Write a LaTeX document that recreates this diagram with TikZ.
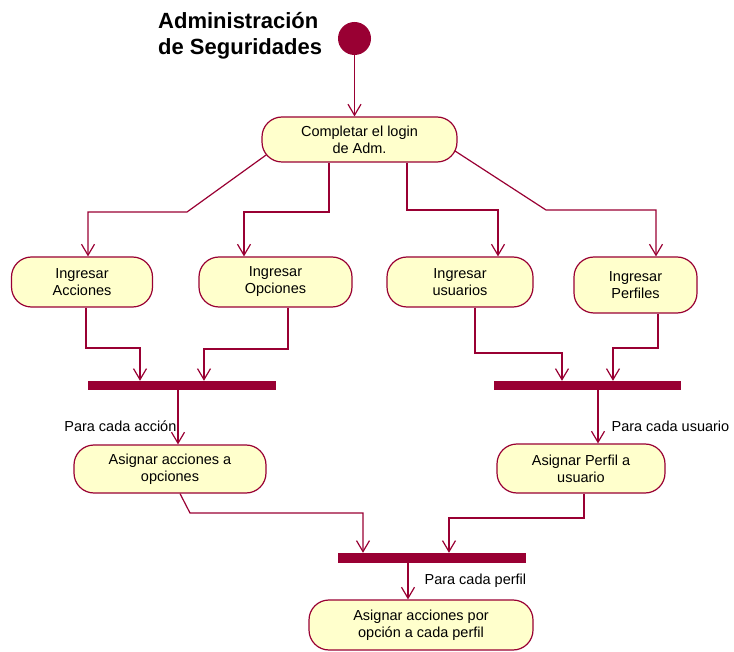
\documentclass[tikz,border=0pt]{standalone}
\usepackage{fontspec}
\setmainfont{Liberation Sans}
\usetikzlibrary{arrows.meta,backgrounds}

\definecolor{roseRed}{HTML}{990033}
\definecolor{roseFill}{HTML}{FFFFCC}

\tikzset{
  action/.style={rectangle, rounded corners=20pt, draw=roseRed, fill=roseFill,
    line width=1.2pt, inner sep=0pt, align=center,
    font=\fontsize{14.5}{17}\selectfont},
  syncbar/.style={rectangle, fill=roseRed, inner sep=0pt, minimum height=9pt},
  flow/.style={draw=roseRed, line width=1.2pt,
    -{Straight Barb[length=11pt,width=13pt,line width=1.2pt]}},
  guard/.style={inner sep=0pt, font=\fontsize{14.5}{17}\selectfont},
}

\begin{document}
\begin{tikzpicture}[x=1pt,y=-1pt]
  \path[use as bounding box] (0,0) rectangle (734,652);

  \node[anchor=north west, align=left, inner sep=0pt,
        font=\fontsize{22}{26}\selectfont\bfseries] (titulo) at (158,12)
        {Administración\\de Seguridades};
  \node[circle, fill=roseRed, minimum size=33pt, inner sep=0pt] (inicio) at (354.5,38.5) {};

  \node[action, minimum width=195pt, minimum height=45pt] (login) at (359.5,139.5)
        {Completar el login\\de Adm.};

  \node[action, minimum width=141pt, minimum height=50pt] (ingAcciones) at (82,282)
        {Ingresar\\Acciones};
  \node[action, minimum width=153pt, minimum height=50pt] (ingOpciones) at (275.5,282)
        {Ingresar\\Opciones};
  \node[action, minimum width=146pt, minimum height=50pt] (ingUsuarios) at (460,282)
        {Ingresar\\usuarios};
  \node[action, minimum width=123pt, minimum height=56pt] (ingPerfiles) at (635.5,285)
        {Ingresar\\Perfiles};

  \node[syncbar, minimum width=188pt] (sincA) at (182,385.5) {};
  \node[syncbar, minimum width=187pt] (sincB) at (587.5,385.5) {};

  \node[action, minimum width=192pt, minimum height=48pt] (asigOpciones) at (170,469)
        {Asignar acciones a\\opciones};
  \node[action, minimum width=168pt, minimum height=49pt] (asigUsuario) at (581,468.5)
        {Asignar Perfil a\\usuario};

  \node[syncbar, minimum width=188pt, minimum height=10pt] (sincC) at (432,558) {};

  \node[action, minimum width=224pt, minimum height=50pt] (asigPerfil) at (421,625)
        {Asignar acciones por\\opción a cada perfil};

  \begin{scope}[on background layer]
    \draw[flow] (inicio.south) -- ([xshift=-5pt]login.north);

    \draw[flow] ([shift={(-92pt,-14.5pt)}]login.center) -- (187,212) -| ([xshift=6pt]ingAcciones.north);
    \draw[flow] ([xshift=-30.5pt]login.south) |- (244,212) -- ([xshift=-31.5pt]ingOpciones.north);
    \draw[flow] ([xshift=47.5pt]login.south) |- (498,210) -- ([xshift=38pt]ingUsuarios.north);
    \draw[flow] ([shift={(94pt,-10.5pt)}]login.center) -- (546,210) -| ([xshift=20.5pt]ingPerfiles.north);

    \draw[flow] ([xshift=4pt]ingAcciones.south) |- (140,348) -- ([xshift=-42pt]sincA.north);
    \draw[flow] ([xshift=12.5pt]ingOpciones.south) |- (204,349) -- ([xshift=22pt]sincA.north);
    \draw[flow] ([xshift=15pt]ingUsuarios.south) |- (562,353) -- ([xshift=-25.5pt]sincB.north);
    \draw[flow] ([xshift=22.5pt]ingPerfiles.south) |- (613,348) -- ([xshift=25.5pt]sincB.north);

    \draw[flow] ([xshift=-4pt]sincA.south) --
      node[guard, anchor=east, pos=0.67, xshift=-1pt] {Para cada acción}
      ([xshift=8pt]asigOpciones.north);
    \draw[flow] ([xshift=10.5pt]sincB.south) --
      node[guard, anchor=west, pos=0.68, xshift=13pt] {Para cada usuario}
      ([xshift=17pt]asigUsuario.north);

    \draw[flow] ([xshift=10pt]asigOpciones.south) -- (190,513) -| ([xshift=-69pt]sincC.north);
    \draw[flow] ([xshift=3pt]asigUsuario.south) |- (449,518) -- ([xshift=17pt]sincC.north);

    \draw[flow] ([xshift=-24pt]sincC.south) --
      node[guard, anchor=west, pos=0.49, xshift=16pt] {Para cada perfil}
      ([xshift=-13pt]asigPerfil.north);
  \end{scope}
\end{tikzpicture}
\end{document}
